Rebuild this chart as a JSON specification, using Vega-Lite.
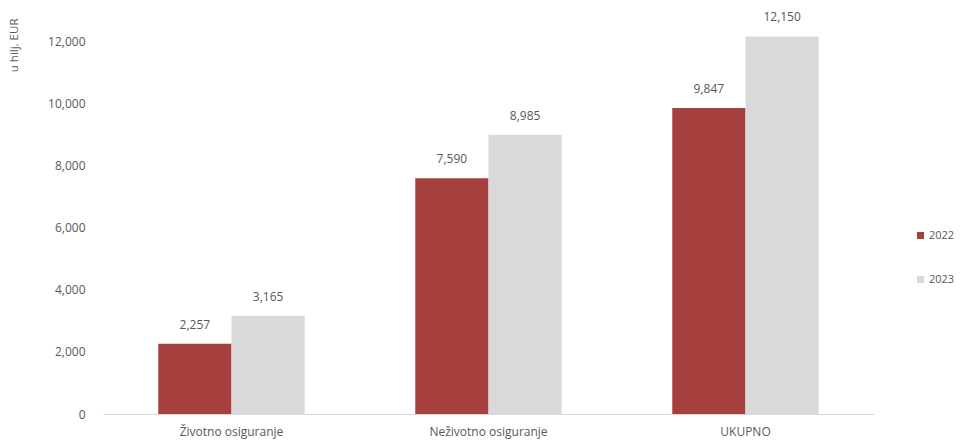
{
  "$schema": "https://vega.github.io/schema/vega-lite/v6.json",
  "width": 771,
  "height": 404,
  "autosize": {"type": "none"},
  "padding": {"left": 103, "top": 10, "right": 97, "bottom": 34},
  "background": "white",
  "config": {"view": {"stroke": null}, "font": "Open Sans"},
  "data": {"values": [
    {"kategorija": "Životno osiguranje", "godina": "2022", "iznos": 2257},
    {"kategorija": "Životno osiguranje", "godina": "2023", "iznos": 3165},
    {"kategorija": "Neživotno osiguranje", "godina": "2022", "iznos": 7590},
    {"kategorija": "Neživotno osiguranje", "godina": "2023", "iznos": 8985},
    {"kategorija": "UKUPNO", "godina": "2022", "iznos": 9847},
    {"kategorija": "UKUPNO", "godina": "2023", "iznos": 12150}
  ]},
  "encoding": {
    "x": {"field": "kategorija", "type": "nominal", "sort": null,
      "scale": {"paddingInner": 0.43, "paddingOuter": 0.215},
      "axis": {"title": null, "labelAngle": 0, "ticks": false, "labelPadding": 12, "labelFontSize": 12, "labelColor": "#595959", "domainColor": "#D9D9D9", "labelFont": "Open Sans"}},
    "xOffset": {"field": "godina", "type": "nominal"},
    "y": {"field": "iznos", "type": "quantitative",
      "scale": {"domain": [0, 13000], "nice": false},
      "axis": {"title": "u hilj. EUR", "titleAnchor": "end", "titleFontWeight": "normal", "titleFontSize": 11.5, "titleColor": "#595959", "titlePadding": 28, "titleY": 8,
        "values": [0, 2000, 4000, 6000, 8000, 10000, 12000], "format": ",d", "grid": false, "domain": false, "ticks": false, "labelPadding": 18, "labelFontSize": 12, "labelColor": "#595959"}}
  },
  "layer": [
    {"mark": {"type": "bar"},
      "encoding": {"color": {"field": "godina", "type": "nominal",
        "scale": {"domain": ["2022", "2023"], "range": ["#A5403E", "#D9D9D9"]},
        "legend": {"title": null, "orient": "none", "legendX": 812, "legendY": 220, "symbolType": "square", "symbolSize": 50, "rowPadding": 32, "labelFontSize": 11, "labelColor": "#595959", "labelOffset": 3}}}},
    {"mark": {"type": "text", "baseline": "bottom", "dy": -12, "fontSize": 12, "color": "#595959"},
      "encoding": {"text": {"field": "iznos", "type": "quantitative", "format": ",d"}}}
  ]
}
